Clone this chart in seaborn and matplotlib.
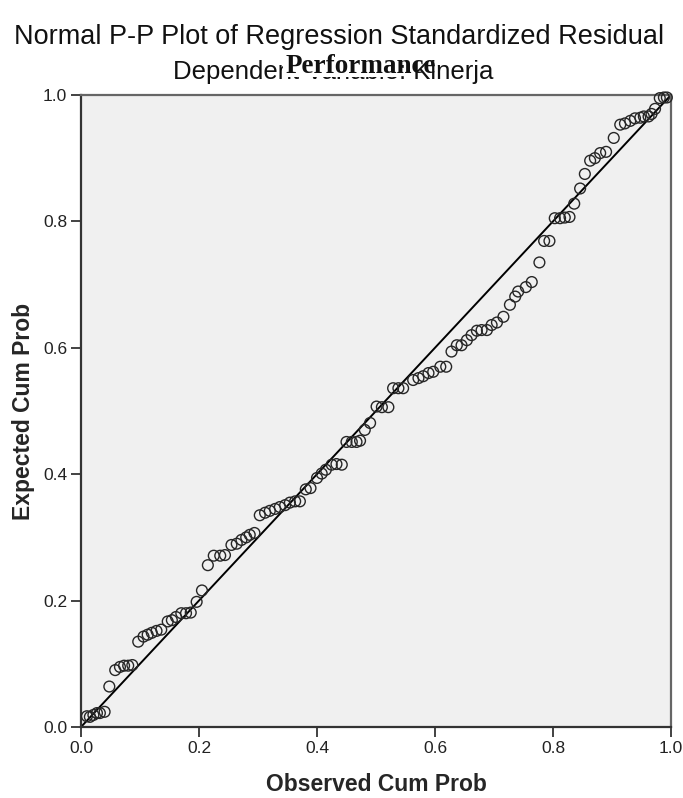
import numpy as np
import pandas as pd
import seaborn as sns
import matplotlib.pyplot as plt
from matplotlib.patches import Rectangle

sns.set_style("white")
plt.rcParams["font.family"] = ["Liberation Sans", "DejaVu Sans"]

# observed vs expected cumulative probabilities
observed = [
    0.010, 0.015, 0.021, 0.027, 0.032, 0.040, 0.048, 0.058, 0.066, 0.073,
    0.080, 0.087, 0.097, 0.106, 0.113, 0.120, 0.128, 0.136, 0.147, 0.154,
    0.161, 0.170, 0.178, 0.186, 0.196, 0.205, 0.215, 0.225, 0.236, 0.244,
    0.255, 0.264, 0.272, 0.280, 0.286, 0.294, 0.303, 0.312, 0.320, 0.329,
    0.337, 0.346, 0.354, 0.363, 0.371, 0.381, 0.389, 0.400, 0.408, 0.415,
    0.425, 0.433, 0.442, 0.450, 0.459, 0.467, 0.473, 0.481, 0.490, 0.501,
    0.510, 0.521, 0.529, 0.538, 0.546, 0.563, 0.572, 0.580, 0.589, 0.597,
    0.609, 0.619, 0.628, 0.637, 0.645, 0.654, 0.662, 0.671, 0.679, 0.688,
    0.696, 0.705, 0.716, 0.727, 0.736, 0.741, 0.754, 0.764, 0.777, 0.785,
    0.794, 0.803, 0.812, 0.820, 0.828, 0.836, 0.846, 0.854, 0.863, 0.871,
    0.880, 0.890, 0.903, 0.914, 0.922, 0.931, 0.939, 0.948, 0.954, 0.962,
    0.967, 0.973, 0.981, 0.988, 0.993,
]
expected = [
    0.017, 0.016, 0.019, 0.022, 0.022, 0.024, 0.064, 0.090, 0.095, 0.097,
    0.097, 0.098, 0.135, 0.143, 0.146, 0.149, 0.152, 0.154, 0.167, 0.169,
    0.174, 0.180, 0.180, 0.181, 0.198, 0.216, 0.256, 0.271, 0.271, 0.272,
    0.288, 0.290, 0.296, 0.300, 0.304, 0.307, 0.335, 0.339, 0.342, 0.345,
    0.348, 0.351, 0.355, 0.357, 0.357, 0.376, 0.378, 0.394, 0.401, 0.407,
    0.415, 0.416, 0.415, 0.451, 0.451, 0.451, 0.453, 0.470, 0.481, 0.507,
    0.506, 0.506, 0.536, 0.536, 0.536, 0.549, 0.552, 0.555, 0.560, 0.562,
    0.570, 0.570, 0.594, 0.604, 0.604, 0.612, 0.620, 0.627, 0.628, 0.628,
    0.636, 0.640, 0.649, 0.668, 0.681, 0.689, 0.696, 0.704, 0.735, 0.769,
    0.769, 0.805, 0.805, 0.806, 0.807, 0.828, 0.852, 0.875, 0.896, 0.900,
    0.908, 0.910, 0.932, 0.953, 0.955, 0.959, 0.963, 0.964, 0.966, 0.966,
    0.970, 0.978, 0.995, 0.996, 0.996,
]
ref_line = [0.0, 1.0]

df = pd.DataFrame({"Observed": observed, "Expected": expected})

fig = plt.figure(figsize=(6.83, 7.98), dpi=100)
ax = fig.add_axes([0.1186, 0.089, 0.8638, 0.792])
ax.set_facecolor("#f0f0f0")

sns.lineplot(x=ref_line, y=ref_line, ax=ax, color="black", linewidth=1.4)
sns.scatterplot(data=df, x="Observed", y="Expected", ax=ax, s=60,
                facecolor="none", edgecolor="#262626", linewidth=1.0,
                marker="o", clip_on=False, zorder=3)

ax.set_xlim(0, 1)
ax.set_ylim(0, 1)
ticks = [0.0, 0.2, 0.4, 0.6, 0.8, 1.0]
ax.set_xticks(ticks)
ax.set_yticks(ticks)
ax.set_xticklabels([f"{t:.1f}" for t in ticks])
ax.set_yticklabels([f"{t:.1f}" for t in ticks])
ax.tick_params(axis="both", direction="out", length=7, width=1.2,
               labelsize=12.5, colors="#222222", bottom=True, left=True, pad=3)

for side in ["left", "bottom"]:
    ax.spines[side].set_color("#333333")
    ax.spines[side].set_linewidth(1.6)
for side in ["top", "right"]:
    ax.spines[side].set_color("#666666")
    ax.spines[side].set_linewidth(1.6)

ax.set_xlabel("Observed Cum Prob", fontsize=16.5, fontweight="bold", labelpad=12)
ax.set_ylabel("Expected Cum Prob", fontsize=16.5, fontweight="bold", labelpad=6)

fig.text(0.497, 0.9449, "Normal P-P Plot of Regression Standardized Residual",
         ha="center", va="baseline", fontsize=19.5, color="#111111")
fig.text(0.4875, 0.901, "Dependent Variable: Kinerja",
         ha="center", va="baseline", fontsize=18.5, color="#111111")
# white patch pasted over part of the subtitle, with a translation on top
fig.patches.append(Rectangle((0.4143, 0.9035), 0.1713, 0.0313,
                             transform=fig.transFigure, facecolor="white",
                             edgecolor="none", zorder=5))
fig.text(0.5286, 0.9085, "Performance", ha="center", va="baseline",
         fontsize=19.5, fontweight="bold",
         family=["Liberation Serif", "DejaVu Serif"], color="#111111", zorder=6)

fig.savefig("out.png", dpi=100)
